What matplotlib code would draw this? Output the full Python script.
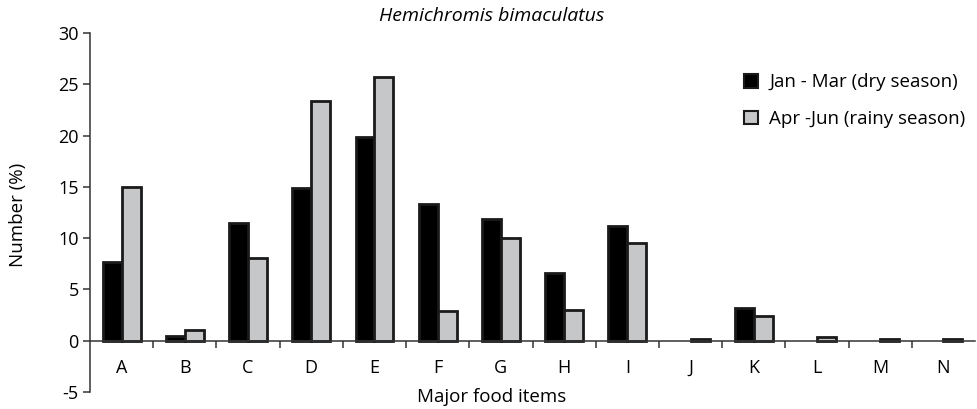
import numpy as np
import matplotlib
matplotlib.use('Agg')
import matplotlib.pyplot as plt

categories = ['A', 'B', 'C', 'D', 'E', 'F', 'G', 'H', 'I', 'J', 'K', 'L', 'M', 'N']
dry_season = [7.7, 0.5, 11.5, 14.9, 19.9, 13.3, 11.9, 6.6, 11.2, 0.0, 3.2, 0.0, 0.0, 0.0]
rainy_season = [15.0, 1.0, 8.1, 23.4, 25.7, 2.9, 10.0, 3.0, 9.5, 0.15, 2.4, 0.4, 0.15, 0.15]
y_ticks = [-5, 0, 5, 10, 15, 20, 25, 30]

plt.rcParams['font.family'] = ['Open Sans', 'DejaVu Sans']

fig = plt.figure(figsize=(9.78, 4.09), dpi=100)
ax = fig.add_axes([0.092, 0.0416, 0.905, 0.8778])

x = np.arange(len(categories)) + 0.5
w = 0.3
# empty bars get no outline
dry_lw = [2 if v > 0 else 0 for v in dry_season]
rainy_lw = [2 if v > 0 else 0 for v in rainy_season]
ax.bar(x - w / 2, dry_season, w, color='black', edgecolor='#1a1a1a',
       linewidth=dry_lw, label='Jan - Mar (dry season)', zorder=3)
ax.bar(x + w / 2, rainy_season, w, color='#c6c7c9', edgecolor='#1a1a1a',
       linewidth=rainy_lw, label='Apr -Jun (rainy season)', zorder=3)

ax.set_xlim(0, 14)
ax.set_ylim(-5, 30)
ax.set_yticks(y_ticks)
ax.set_yticklabels([str(t) for t in y_ticks], fontsize=13)

# x axis sits at y = 0, with boundary ticks pointing down
ax.spines['bottom'].set_position(('data', 0))
ax.spines['top'].set_visible(False)
ax.spines['right'].set_visible(False)
for s in ['left', 'bottom']:
    ax.spines[s].set_color('#333333')
    ax.spines[s].set_linewidth(1.1)
ax.spines['bottom'].set_zorder(4)

ax.set_xticks(x)
ax.set_xticklabels(categories, fontsize=13)
ax.set_xticks(np.arange(1, 14), minor=True)
ax.tick_params(axis='x', which='major', length=0, pad=13)
ax.tick_params(axis='x', which='minor', length=5, direction='out', color='#333333', width=1.1)
ax.tick_params(axis='y', length=5, direction='out', color='#333333', width=1.1, pad=3)

fig.text(0.503, 0.96, 'Hemichromis bimaculatus', ha='center', va='center',
         fontsize=14, style='italic')
fig.text(0.503, 0.03, 'Major food items', ha='center', va='center', fontsize=13.5)
fig.text(0.018, 0.475, 'Number (%)', ha='center', va='center', rotation=90, fontsize=13.5)

leg = ax.legend(loc='upper left', bbox_to_anchor=(0.72, 0.935), frameon=False, fontsize=13.5,
                handlelength=0.75, handleheight=0.75, handletextpad=0.6, labelspacing=1.0)
for h in leg.legend_handles:
    h.set_linewidth(1.5)

fig.savefig('out.png', dpi=100)
